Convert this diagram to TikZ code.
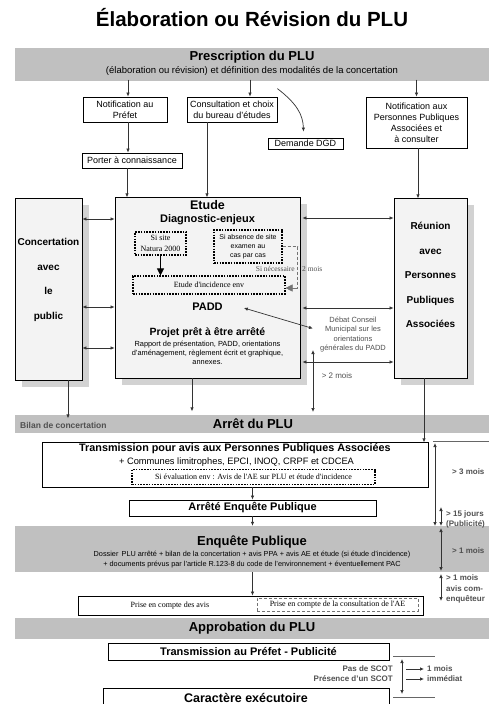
\documentclass[tikz,border=0pt]{standalone}
\usepackage{fontspec}
\setmainfont{Liberation Sans}
\newfontfamily\timesface{Liberation Serif}
\usetikzlibrary{arrows.meta,calc,shadows}
\definecolor{bandgray}{RGB}{192,192,192}
\definecolor{boxgray}{RGB}{243,243,243}
\definecolor{shadegray}{RGB}{210,210,210}
\definecolor{notegray}{RGB}{80,80,80}
\tikzset{
  plubox/.style={draw, line width=0.8pt, inner sep=0pt, align=center,
    font=\fontsize{9}{11}\selectfont},
  plubig/.style={plubox, fill=boxgray,
    drop shadow={shadow xshift=7pt, shadow yshift=-7pt, fill=shadegray, opacity=1}},
  pluband/.style={fill=bandgray, inner sep=0pt, minimum width=474pt},
  pludash/.style={draw, dash pattern=on 1.6pt off 1.2pt, line width=1.1pt, inner sep=0pt,
    align=center, font=\timesface\fontsize{8}{10.5}\selectfont},
  plutitle/.style={font=\bfseries\fontsize{13}{15}\selectfont, inner sep=0pt},
  plutext/.style={inner sep=0pt, align=center},
  plunote/.style={font=\bfseries\fontsize{8}{10.5}\selectfont, text=notegray,
    inner sep=0pt, align=left},
  pluarrow/.style={-{Latex[length=4pt,width=3.5pt]}, line width=0.7pt, black!80},
  plubiarrow/.style={{Latex[length=4pt,width=3.5pt]}-{Latex[length=4pt,width=3.5pt]},
    line width=0.7pt, black!80},
  plubigarrow/.style={-{Triangle[length=7pt,width=7pt]}, line width=0.8pt},
  pludot/.style={densely dashed, line width=0.6pt, black!55},
  plurule/.style={line width=0.6pt, black!60},
}

\begin{document}
\begin{tikzpicture}[x=1pt,y=-1pt]
  \useasboundingbox (0,0) rectangle (489,704);
  \clip (0,0) rectangle (489,704);
  % titre
  \node[font=\bfseries\fontsize{20.5}{24}\selectfont, inner sep=0pt] (titre) at (252,18)
    {Élaboration ou Révision du PLU};
  % prescription
  \node[pluband, minimum height=33pt] (prescr) at (252,64) {};
  \node[plutitle] (prescrt) at (252,57) {Prescription du PLU};
  \node[plutext, font=\fontsize{9.5}{11}\selectfont] (prescrs) at (252,71)
    {(élaboration ou révision) et définition des modalités de la concertation};
  \node[plubox, minimum width=84pt, minimum height=25pt] (notifpref) at (125,109.5)
    {Notification au\\Préfet};
  \node[plubox, minimum width=90pt, minimum height=25pt] (consult) at (232,109.5)
    {Consultation et choix\\du bureau d'études};
  \node[plubox, minimum width=75pt, minimum height=11pt] (dgd) at (305.5,143.5) {Demande DGD};
  \node[plubox, minimum width=101pt, minimum height=51pt] (notifppa) at (416.5,122.5)
    {Notification aux\\Personnes Publiques\\Associées et\\à consulter};
  \node[plubox, minimum width=100pt, minimum height=15pt] (porter) at (132,160.5)
    {Porter à connaissance};
  \draw[pluarrow] ($(notifpref.north)+(3,-17)$) -- ($(notifpref.north)+(3,0)$);
  \draw[pluarrow] ($(consult.north)+(18,-17)$) -- ($(consult.north)+(18,0)$);
  \draw[pluarrow] ($(notifppa.north)+(0,-17)$) -- (notifppa.north);
  \draw[pluarrow] ($(consult.north east)+(0,-8)$) .. controls (296,103) and (303,114) .. ($(dgd.north)+(-2,-6)$);
  \draw[pluarrow] ($(notifpref.south)+(3,0)$) -- ($(porter.north)+(-4,0)$);
  % grands blocs
  \node[plubig, minimum width=67pt, minimum height=182pt] (concert) at (48.5,289) {};
  \node[plubig, minimum width=185pt, minimum height=181pt] (etude) at (207.5,287.5) {};
  \node[plubig, minimum width=73pt, minimum height=180pt] (reunion) at (430.5,288) {};
  \node[plutext, font=\bfseries\fontsize{10}{24.5}\selectfont] (concertt) at (48.5,280)
    {Concertation\\avec\\le\\public};
  \node[plutext, font=\bfseries\fontsize{10}{24.5}\selectfont] (reuniont) at (430.5,275)
    {Réunion\\avec\\Personnes\\Publiques\\Associées};
  \draw[pluarrow] ($(porter.south)+(-5,0)$) -- ++(0,29);
  \draw[pluarrow] ($(consult.south)+(-25,0)$) -- ++(0,75);
  \draw[pluarrow] ($(notifppa.south)+(1.5,0)$) -- ++(0,50);
  % etude
  \node[plutext, font=\bfseries\fontsize{12.5}{14}\selectfont] (etudet) at (207.5,205) {Etude};
  \node[plutext, font=\bfseries\fontsize{11}{13}\selectfont] (diag) at (207.5,220) {Diagnostic-enjeux};
  \node[pludash, minimum width=51pt, minimum height=23pt] (natura) at (160.5,243.5) {Si site\\Natura 2000};
  \node[pludash, minimum width=68pt, minimum height=33pt, font=\fontsize{7}{9}\selectfont]
    (absence) at (248,246.5) {Si absence de site\\examen au\\cas par cas};
  \node[pludash, minimum width=152pt, minimum height=18pt] (incid) at (209,285) {Etude d'incidence env};
  \draw[plubigarrow] (natura.south) -- (natura.south |- incid.north);
  \draw[pludot] (absence.east) -- ++(15,0) -- ++(0,41.5);
  \draw[plubigarrow, line width=0.6pt, black!55] ($(absence.east)+(15,41.5)$) -- ($(incid.east)+(0,3)$);
  \node[plutext, anchor=east, font=\timesface\fontsize{7.5}{9}\selectfont, text=notegray] (neces) at (295,269) {Si nécessaire};
  \node[plutext, anchor=west, font=\timesface\fontsize{7.5}{9}\selectfont, text=notegray] (neces2) at (302,269) {2 mois};
  \node[plutext, font=\bfseries\fontsize{11}{13}\selectfont] (padd) at (207.5,307) {PADD};
  \node[plutext, font=\bfseries\fontsize{10.5}{12}\selectfont] (projet) at (207.5,333) {Projet prêt à être arrêté};
  \node[plutext, font=\fontsize{7.4}{9}\selectfont] (rapport) at (207.5,353)
    {Rapport de présentation, PADD, orientations\\d'aménagement, règlement écrit et graphique,\\annexes.};
  \node[plutext, font=\fontsize{7.5}{9.3}\selectfont, text=notegray] (debat) at (353,334.5)
    {Débat Conseil\\Municipal sur les\\orientations\\générales du PADD};
  \draw[plubiarrow] ($(padd.east)+(21,1)$) -- ($(debat.west)+(-7,-6)$);
  % echanges
  \draw[plubiarrow] (concert.east |- 0,219) -- (etude.west |- 0,219);
  \draw[plubiarrow] (concert.east |- 0,307) -- (etude.west |- 0,307);
  \draw[plubiarrow] (concert.east |- 0,348) -- (etude.west |- 0,348);
  \draw[plubiarrow] ($(etude.east |- 0,218)+(2,0)$) -- (reunion.west |- 0,218);
  \draw[plubiarrow] ($(etude.east |- 0,308)+(2,0)$) -- (reunion.west |- 0,308);
  \draw[plubiarrow] ($(etude.east |- 0,362)+(2,0)$) -- (reunion.west |- 0,362);
  % arret
  \node[pluband, minimum height=18pt] (arret) at (252,424) {};
  \node[plutitle] (arrett) at (253,424) {Arrêt du PLU};
  \node[plutext, anchor=west, font=\bfseries\fontsize{8.5}{10}\selectfont, text=notegray] (bilan) at (20,425)
    {Bilan de concertation};
  \draw[pluarrow] ($(concert.south)+(19.5,0)$) -- ++(0,38);
  \draw[pluarrow] ($(etude.south)+(-15.5,0)$) -- ++(0,33);
  \coordinate (deuxhaut) at (313,350);
  \coordinate (deuxbas) at (313,412);
  \draw[plubiarrow] (deuxhaut) -- (deuxbas);
  \node[plutext, font=\fontsize{8}{10}\selectfont, text=notegray] (deuxmois) at (337,376) {> 2 mois};
  \draw[pluarrow] ($(reunion.south)+(-6.5,0)$) -- ++(0,64);
  % transmission
  \node[plubox, minimum width=386pt, minimum height=45pt] (transm) at (235,464.5) {};
  \node[plutext, font=\bfseries\fontsize{10.8}{12}\selectfont] (transmt) at (235,449)
    {Transmission pour avis aux Personnes Publiques Associées};
  \node[plutext, font=\fontsize{9.3}{11}\selectfont] (communes) at (236.5,462)
    {+ Communes limitrophes, EPCI, INOQ, CRPF et CDCEA};
  \node[pludash, minimum width=243pt, minimum height=15pt] (aeavis) at (253.5,477)
    {Si évaluation env : Avis de l'AE sur PLU et étude d'incidence};
  \node[plubox, minimum width=247pt, minimum height=16pt, font=\bfseries\fontsize{11}{13}\selectfont]
    (arrete) at (252.5,508) {Arrêté Enquête Publique};
  \draw[pluarrow] (transm.south -| arrete.north) -- (arrete.north);
  % enquete
  \node[pluband, minimum height=46pt] (enquete) at (252,549) {};
  \node[plutitle] (enquetet) at (252,542) {Enquête Publique};
  \node[plutext, font=\fontsize{7.3}{10}\selectfont] (dossier) at (252,560)
    {Dossier\, PLU arrêté + bilan de la concertation + avis PPA + avis AE et étude (si étude d'incidence)\\
     + documents prévus par l'article R.123-8 du code de l'environnement + éventuellement PAC};
  \draw[pluarrow] (arrete.south) -- (arrete.south |- enquete.north);
  \node[plubox, minimum width=345pt, minimum height=19pt] (prise) at (250.5,605.5) {};
  \node[plutext, font=\timesface\fontsize{8}{10}\selectfont] (priseavis) at (170,606) {Prise en compte des avis};
  \node[draw=black!55, densely dashed, line width=0.6pt, inner sep=0pt, minimum width=161pt,
    minimum height=13pt, font=\timesface\fontsize{8}{10}\selectfont] (priseae) at (337.5,604.5)
    {Prise en compte de la consultation de l'AE};
  \draw[pluarrow] (enquete.south -| arrete.south) -- (prise.north -| arrete.south);
  % approbation
  \node[pluband, minimum height=21pt] (approb) at (252,628.5) {};
  \node[plutitle] (approbt) at (252,628.5) {Approbation du PLU};
  \node[plubox, minimum width=281pt, minimum height=17pt, font=\bfseries\fontsize{11}{13}\selectfont]
    (prefet) at (248.5,651.5) {Transmission au Préfet - Publicité};
  \node[plubox, minimum width=286pt, minimum height=18pt, font=\bfseries\fontsize{12.5}{14}\selectfont]
    (execut) at (246,697.5) {Caractère exécutoire};
  % delais
  \draw[plurule] ($(transm.north east)+(5,0)$) -- ++(56,0);
  \coordinate (trois1) at (435,443);
  \coordinate (trois2) at (435,526);
  \draw[plubiarrow] (trois1) -- (trois2);
  \node[plunote] (troismois) at (452,472) [anchor=west] {> 3 mois};
  \coordinate (quinze1) at (441,507);
  \coordinate (quinze2) at (441,526);
  \draw[plubiarrow] (quinze1) -- (quinze2);
  \node[plunote, anchor=west] (quinze) at (446,519.5) {> 15 jours\\(Publicité)};
  \coordinate (unm1) at (441,528);
  \coordinate (unm2) at (441,571);
  \draw[plubiarrow] (unm1) -- (unm2);
  \node[plunote, anchor=west] (unmois) at (452,551) {> 1 mois};
  \coordinate (com1) at (441,574);
  \coordinate (com2) at (441,601);
  \draw[plubiarrow] (com1) -- (com2);
  \node[plunote, anchor=west] (commiss) at (446,589) {> 1 mois\\avis com-\\enquêteur};
  % scot
  \draw[plurule] (393,656) -- ++(42,0);
  \draw[plurule] (393,697) -- ++(42,0);
  \coordinate (scot1) at (402,659);
  \coordinate (scot2) at (402,694);
  \draw[plubiarrow] (scot1) -- (scot2);
  \node[plunote, anchor=east, align=right] (pasdescot) at (393,669) {Pas de SCOT};
  \node[plunote, anchor=east, align=right] (presscot) at (393,679) {Présence d'un SCOT};
  \node[plunote] (unmoisb) at (427,669) [anchor=west] {1 mois};
  \node[plunote] (immediat) at (427,679) [anchor=west] {immédiat};
  \draw[pluarrow] ($(unmoisb.west)+(-21,0)$) -- ($(unmoisb.west)+(-3,0)$);
  \draw[pluarrow] ($(immediat.west)+(-21,0)$) -- ($(immediat.west)+(-3,0)$);
\end{tikzpicture}
\end{document}
